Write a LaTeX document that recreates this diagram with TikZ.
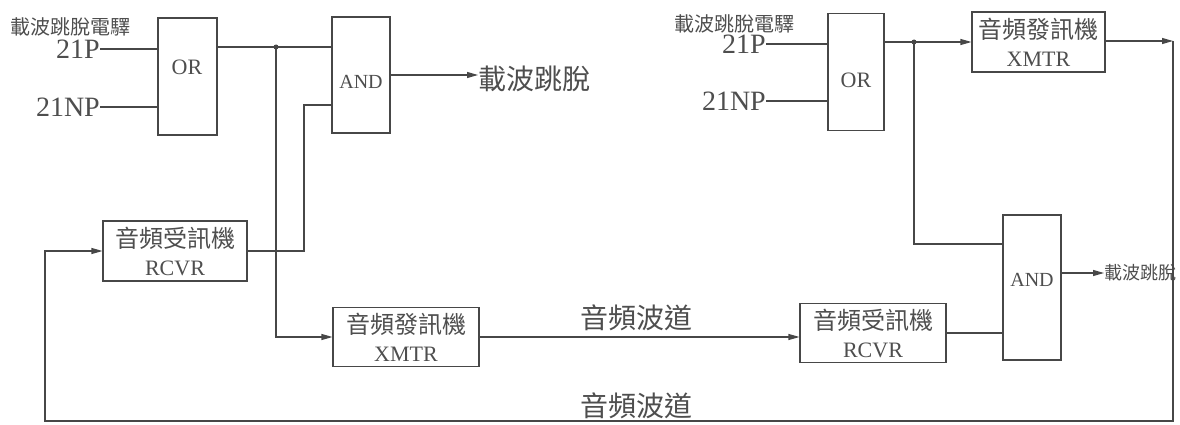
\documentclass[tikz,border=0pt]{standalone}
\usepackage{fontspec}
\setmainfont{Liberation Serif}
\newfontfamily\cjk{Noto Sans CJK TC}
\usetikzlibrary{arrows.meta}
\definecolor{linec}{HTML}{474747}
\definecolor{textc}{HTML}{4E4E4E}
\begin{document}
\begin{tikzpicture}[x=1pt,y=-1pt,
  line/.style={draw=linec, line width=1.1pt},
  arr/.style={line, -{Triangle[length=11pt,width=6pt]}},
  blk/.style={draw=linec, line width=1.1pt, inner sep=0pt, align=center, text=textc,
    font=\fontsize{22}{28}\selectfont},
  lbl/.style={text=textc, inner sep=0pt},
  jdot/.style={circle, fill=linec, inner sep=0pt, minimum size=5pt}
]
\useasboundingbox[fill=white] (0,0) rectangle (1180,425);

% ---------- left station ----------
\node[lbl, font=\cjk\fontsize{20}{20}\selectfont] (relay1) at (70,27) {載波跳脫電驛};
\node[lbl, anchor=east, font=\fontsize{28}{28}\selectfont] (p1) at (100,49) {21P};
\node[lbl, anchor=east, font=\fontsize{28}{28}\selectfont] (np1) at (100,107) {21NP};
\node[blk, minimum width=59pt, minimum height=117pt] (or1) at (187.5,76.5) {};
\node[lbl, font=\fontsize{22}{22}\selectfont] (or1t) at (187,67) {OR};
\node[blk, minimum width=58pt, minimum height=116pt] (and1) at (361,75) {};
\node[lbl, font=\fontsize{20}{20}\selectfont] (and1t) at (361,82) {AND};
\node[lbl, anchor=west, font=\cjk\fontsize{28}{28}\selectfont] (trip1) at (478,79) {載波跳脫};
\node[blk, minimum width=144pt, minimum height=60pt] (rcvr1) at (175,251)
  {{\cjk\fontsize{24}{28}\selectfont 音頻受訊機}\\RCVR};
\node[blk, minimum width=146pt, minimum height=59pt] (xmtr1) at (406,337)
  {{\cjk\fontsize{24}{28}\selectfont 音頻發訊機}\\XMTR};
\coordinate (j1) at (276,47);

% ---------- right station ----------
\node[lbl, font=\cjk\fontsize{20}{20}\selectfont] (relay2) at (734,24) {載波跳脫電驛};
\node[lbl, anchor=east, font=\fontsize{28}{28}\selectfont] (p2) at (766,44) {21P};
\node[lbl, anchor=east, font=\fontsize{28}{28}\selectfont] (np2) at (766,101) {21NP};
\node[blk, minimum width=56pt, minimum height=117pt] (or2) at (856,72) {};
\node[lbl, font=\fontsize{22}{22}\selectfont] (or2t) at (856,80) {OR};
\node[blk, minimum width=133pt, minimum height=60pt] (xmtr2) at (1038.5,42)
  {{\cjk\fontsize{24}{28}\selectfont 音頻發訊機}\\XMTR};
\node[blk, minimum width=146pt, minimum height=59pt] (rcvr2) at (873,333)
  {{\cjk\fontsize{24}{28}\selectfont 音頻受訊機}\\RCVR};
\node[blk, minimum width=58pt, minimum height=145pt] (and2) at (1032,287.5) {};
\node[lbl, font=\fontsize{20}{20}\selectfont] (and2t) at (1032,280) {AND};
\node[lbl, anchor=west, font=\cjk\fontsize{18}{18}\selectfont] (trip2) at (1104,273) {載波跳脫};
\coordinate (j2) at (914,42);
\coordinate (c1) at (1173,41);
\coordinate (c2) at (1173,421);
\coordinate (c3) at (45,421);

% channel labels
\node[lbl, font=\cjk\fontsize{28}{28}\selectfont] (ch1) at (636,318) {音頻波道};
\node[lbl, font=\cjk\fontsize{28}{28}\selectfont] (ch2) at (636,406) {音頻波道};

% ---------- connectors, left ----------
\draw[line] (p1.east) -- (p1.east -| or1.west);
\draw[line] (np1.east) -- (np1.east -| or1.west);
\draw[line] (or1.east |- j1) -- (and1.west |- j1);
\node[jdot] (d1) at (j1) {};
\draw[arr] (j1) |- (xmtr1.west);
\draw[line] (rcvr1.east) -| (304,105) -- (and1.west |- 0,105);
\draw[arr] (and1.east) -- (and1.east -| trip1.west);
\draw[arr] (xmtr1.east) -- (xmtr1.east -| rcvr2.west);

% ---------- connectors, right ----------
\draw[line] (p2.east) -- (p2.east -| or2.west);
\draw[line] (np2.east) -- (np2.east -| or2.west);
\draw[arr] (or2.east |- j2) -- (xmtr2.west |- j2);
\node[jdot] (d2) at (j2) {};
\draw[line] (j2) |- (and2.west |- 0,244);
\draw[line] (rcvr2.east) -- (rcvr2.east -| and2.west);
\draw[arr] (and2.east |- trip2.west) -- (trip2.west);
\draw[arr] (xmtr2.east |- c1) -- (c1);
\draw[arr] (c1) -- (c2) -- (c3) |- (rcvr1.west);
\end{tikzpicture}
\end{document}
